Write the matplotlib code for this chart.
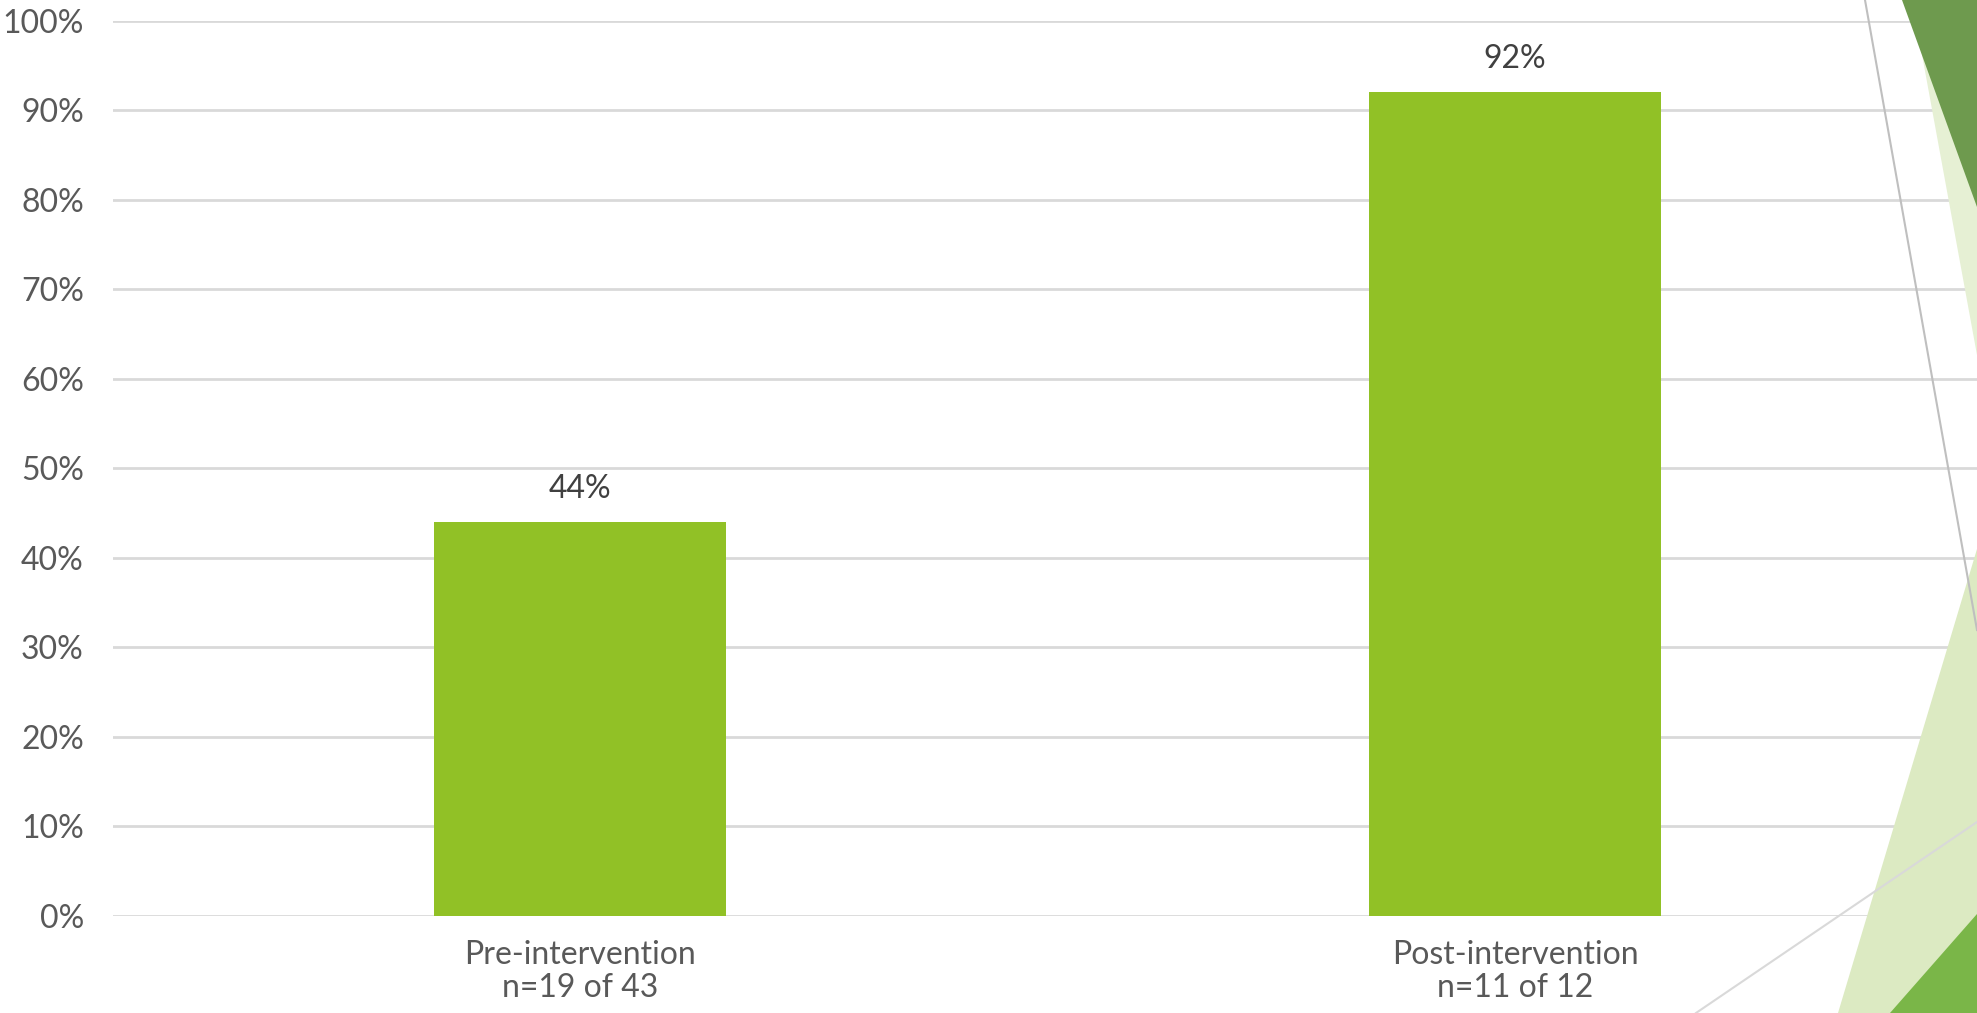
import matplotlib

matplotlib.use("Agg")
import matplotlib.pyplot as plt
from matplotlib.patches import Polygon
from matplotlib.lines import Line2D

# Share of patients, pre vs post intervention
categories = ["Pre-intervention", "Post-intervention"]
counts = ["n=19 of 43", "n=11 of 12"]
percent = [44, 92]
y_ticks = [0, 10, 20, 30, 40, 50, 60, 70, 80, 90, 100]

BAR_GREEN = "#91C126"
GRID = "#D9D9D9"
TICK_GREY = "#595959"
LABEL_DARK = "#404040"

W, H = 1977, 1013
plt.rcParams["font.family"] = ["Lato", "DejaVu Sans"]

fig = plt.figure(figsize=(W / 100, H / 100), dpi=100)


def px(x, y):
    # pixel coords (origin top-left) -> figure fraction
    return (x / W, 1 - y / H)


# theme decoration on the right edge, behind the chart
shapes = [
    ([(1912, 0), (1977, 0), (1977, 355)], "#E6F0D4"),
    ([(1902, 0), (1977, 0), (1977, 207)], "#6E9A4E"),
    ([(1838, 1013), (1977, 549), (1977, 1013)], "#DCEAC2"),
    ([(1890, 1013), (1977, 914), (1977, 1013)], "#7AB648"),
]
for pts, color in shapes:
    fig.patches.append(Polygon([px(*p) for p in pts], closed=True,
                               transform=fig.transFigure, facecolor=color,
                               edgecolor="none", zorder=0))
for (x0, y0), (x1, y1), color in [((1865, 0), (1977, 630), "#BFBFBF"),
                                  ((1696, 1013), (1977, 822), "#D9D9D9")]:
    a, b = px(x0, y0), px(x1, y1)
    fig.lines.append(Line2D([a[0], b[0]], [a[1], b[1]], transform=fig.transFigure,
                            color=color, linewidth=1.5, zorder=0.5))

left, right = 113 / W, 1.0
bottom, top = 1 - 916 / H, 1 - 20.7 / H
ax = fig.add_axes([left, bottom, right - left, top - bottom])
ax.set_facecolor("none")

x = list(range(len(categories)))
ax.bar(x, percent, width=0.313, color=BAR_GREEN, zorder=2)
for xi, v in zip(x, percent):
    ax.annotate(f"{v}%", (xi, v), xytext=(0, 13), textcoords="offset points",
                ha="center", va="bottom", fontsize=23, color=LABEL_DARK)

ax.set_xlim(-0.4995, 1.494)
ax.set_ylim(0, 100)
ax.set_yticks(y_ticks)
ax.set_yticklabels([f"{t}%" for t in y_ticks])
ax.set_xticks(x)
ax.set_xticklabels([f"{c}\n{n}" for c, n in zip(categories, counts)])
ax.tick_params(axis="y", length=0, pad=21, labelsize=23, labelcolor=TICK_GREY)
ax.tick_params(axis="x", length=0, pad=17, labelsize=23, labelcolor=TICK_GREY)
for lbl in ax.get_xticklabels():
    lbl.set_linespacing(1.13)

ax.yaxis.grid(True, color=GRID, linewidth=2, zorder=1)
ax.set_axisbelow(True)
for s in ax.spines.values():
    s.set_visible(False)

fig.savefig("out.png", dpi=100)
